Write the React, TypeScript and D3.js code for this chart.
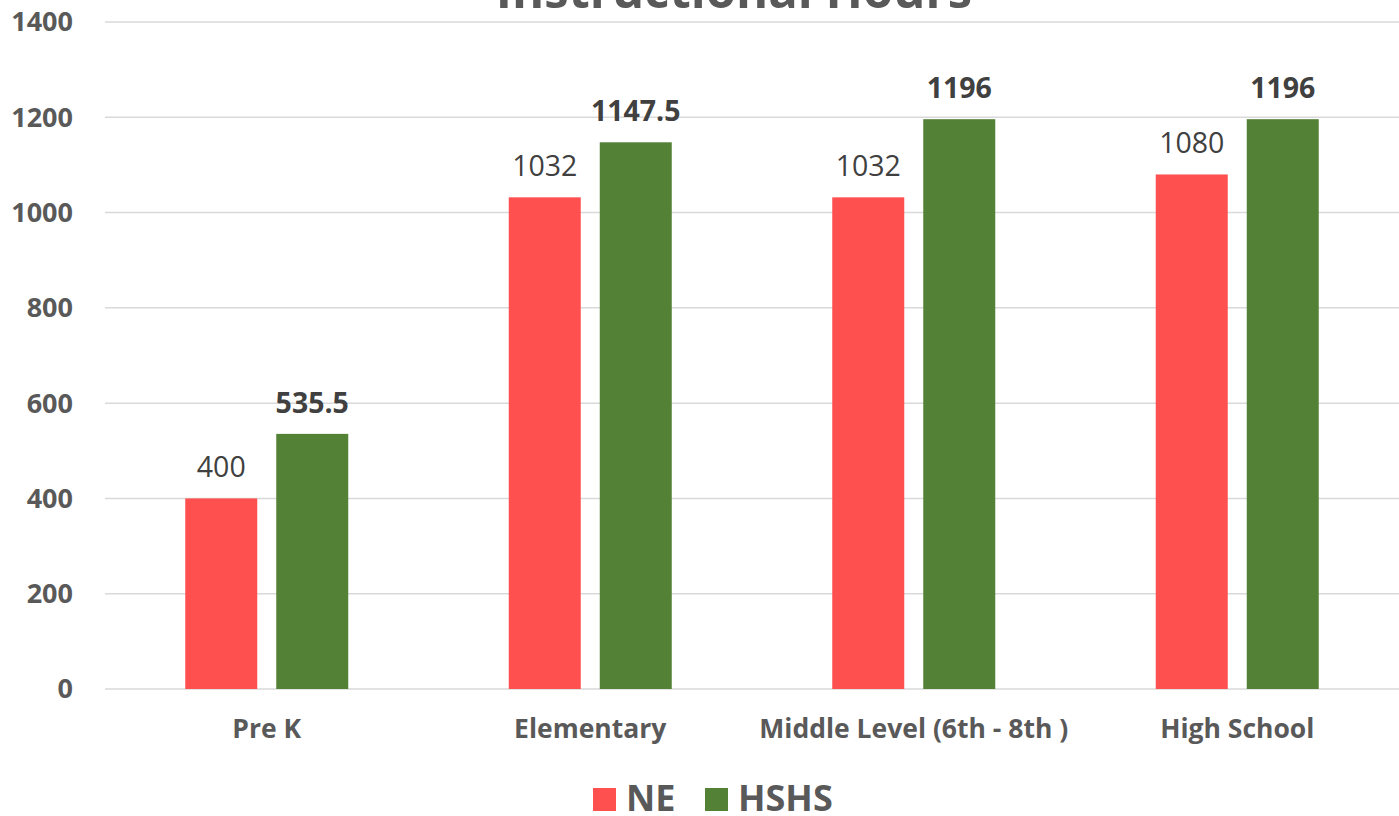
import React from 'react';
import * as d3 from 'd3';

const categories = ['Pre K', 'Elementary', 'Middle Level (6th - 8th )', 'High School'];
const seriesNames = ['NE', 'HSHS'];
const neValues = [400, 1032, 1032, 1080];
const hshsValues = [535.5, 1147.5, 1196, 1196];
const yTicks = [0, 200, 400, 600, 800, 1000, 1200, 1400];
const title = 'Instructional Hours';

const colors: Record<string, string> = { NE: '#FF5050', HSHS: '#538135' };

const width = 1399;
const height = 816;
const font = '"Open Sans", sans-serif';

const App: React.FC = () => {
  const x = d3.scaleBand<string>().domain(categories).range([105, 1399]).padding(0);
  const y = d3.scaleLinear().domain([0, 1400]).range([689, 22]);

  const series = [
    { name: 'NE', values: neValues, bold: false },
    { name: 'HSHS', values: hshsValues, bold: true },
  ];

  const groupWidth = 163;

  return (
    <svg
      width={width}
      height={height}
      style={{ position: 'absolute', left: 0, top: 0, display: 'block', background: '#fff' }}
      fontFamily={font}
    >
      <text x={734} y={8} textAnchor="middle" fontSize={49} fontWeight={700} fill="#595959">
        {title}
      </text>

      {/* grid + y labels */}
      {yTicks.map((t) => (
        <g key={t}>
          <line x1={105} x2={1399} y1={y(t)} y2={y(t)} stroke="#d9d9d9" strokeWidth={1.5} />
          <text
            x={73}
            y={y(t)}
            dy="0.35em"
            textAnchor="end"
            fontSize={27}
            fontWeight={700}
            fill="#595959"
          >
            {t}
          </text>
        </g>
      ))}

      {/* bars */}
      {categories.map((c, i) => {
        const center = (x(c) ?? 0) + x.bandwidth() / 2;
        const sub = d3
          .scaleBand<string>()
          .domain(seriesNames)
          .range([center - groupWidth / 2, center + groupWidth / 2])
          .paddingInner(19 / 91)
          .paddingOuter(0);
        return (
          <g key={c}>
            {series.map((s) => {
              const v = s.values[i];
              const bx = sub(s.name) ?? 0;
              return (
                <g key={s.name}>
                  <rect
                    x={bx}
                    y={y(v)}
                    width={sub.bandwidth()}
                    height={y(0) - y(v)}
                    fill={colors[s.name]}
                  />
                  <text
                    x={bx + sub.bandwidth() / 2}
                    y={y(v) - 21}
                    textAnchor="middle"
                    fontSize={28.5}
                    fontWeight={s.bold ? 700 : 400}
                    fill="#404040"
                  >
                    {v}
                  </text>
                </g>
              );
            })}
            <text
              x={center}
              y={738}
              textAnchor="middle"
              fontSize={26.5}
              fontWeight={700}
              fill="#595959"
            >
              {c}
            </text>
          </g>
        );
      })}

      {/* legend */}
      <g>
        <rect x={593} y={788} width={23} height={23} fill={colors.NE} />
        <text x={626} y={811} fontSize={36} fontWeight={700} fill="#595959">
          NE
        </text>
        <rect x={705} y={788} width={23} height={23} fill={colors.HSHS} />
        <text x={738} y={811} fontSize={36} fontWeight={700} fill="#595959">
          HSHS
        </text>
      </g>
    </svg>
  );
};

export default App;
